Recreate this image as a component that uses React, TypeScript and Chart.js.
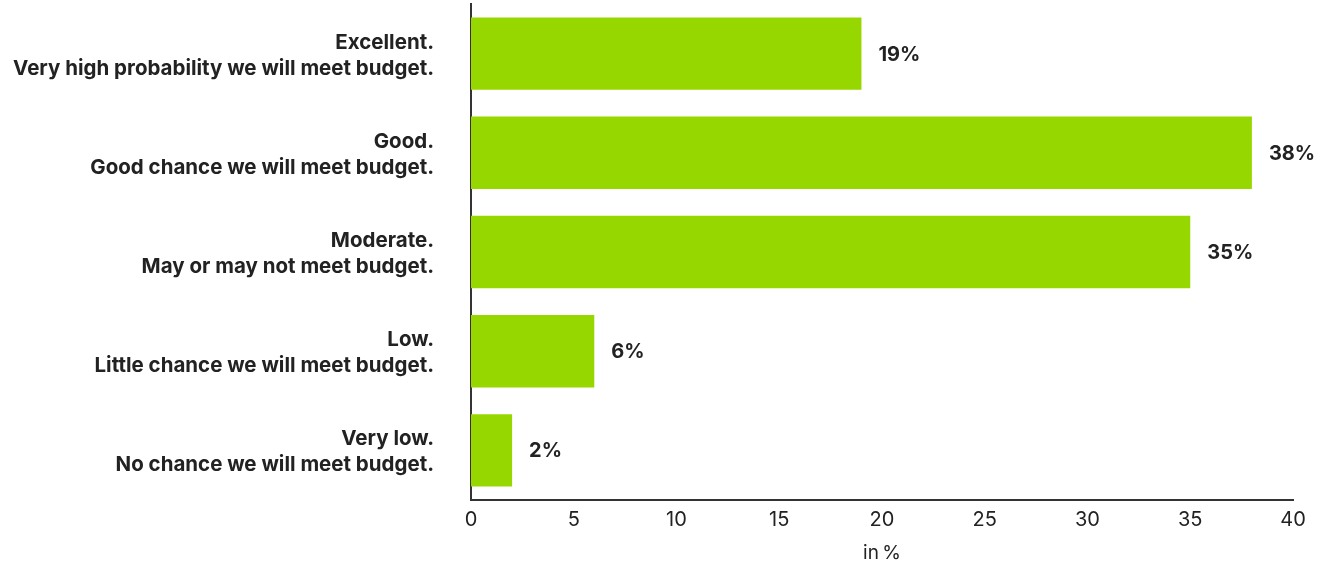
import React, { useEffect, useRef } from "react";
import { Chart, registerables } from "chart.js";

Chart.register(...registerables);

const categories: string[][] = [
  ["Excellent.", "Very high probability we will meet budget."],
  ["Good.", "Good chance we will meet budget."],
  ["Moderate.", "May or may not meet budget."],
  ["Low.", "Little chance we will meet budget."],
  ["Very low.", "No chance we will meet budget."],
];
const values: number[] = [19, 38, 35, 6, 2];
const xTicks: number[] = [0, 5, 10, 15, 20, 25, 30, 35, 40];
const axisTitle = "in\u2009%";

const FONT = "Inter, 'Noto Sans', sans-serif";
const TEXT = "#222222";
const BAR = "#97d700";

const valueLabels = {
  id: "valueLabels",
  afterDatasetsDraw(chart: any) {
    const ctx = chart.ctx;
    const meta = chart.getDatasetMeta(0);
    ctx.save();
    ctx.font = `700 20px ${FONT}`;
    ctx.fillStyle = TEXT;
    ctx.textAlign = "left";
    ctx.textBaseline = "middle";
    meta.data.forEach((el: any, i: number) => {
      ctx.fillText(`${values[i]}%`, el.x + 17, el.y + 1);
    });
    ctx.restore();
  },
};

const categoryLabels = {
  id: "categoryLabels",
  afterDraw(chart: any) {
    const ctx = chart.ctx;
    const y = chart.scales.y;
    const right = chart.chartArea.left - 37;
    ctx.save();
    ctx.font = `700 20.5px ${FONT}`;
    ctx.fillStyle = TEXT;
    ctx.textAlign = "right";
    ctx.textBaseline = "alphabetic";
    categories.forEach((lines, i) => {
      const cy = y.getPixelForValue(i);
      ctx.fillText(lines[0], right, cy - 5);
      ctx.fillText(lines[1], right, cy + 21);
    });
    ctx.restore();
  },
};

export default function App() {
  const ref = useRef<HTMLCanvasElement>(null);
  useEffect(() => {
    if (!ref.current) return;
    const chart = new Chart(ref.current, {
      type: "bar",
      data: {
        labels: categories.map((c) => c.join(" ")),
        datasets: [
          {
            data: values,
            backgroundColor: BAR,
            barPercentage: 0.73,
            categoryPercentage: 1,
          },
        ],
      },
      plugins: [valueLabels, categoryLabels],
      options: {
        indexAxis: "y",
        animation: false,
        responsive: false,
        maintainAspectRatio: false,
        layout: { padding: { top: 4, right: 37, left: 0, bottom: 0 } },
        plugins: {
          legend: { display: false },
          tooltip: { enabled: false },
        },
        scales: {
          x: {
            min: 0,
            max: 40,
            afterBuildTicks: (scale: any) => {
              scale.ticks = xTicks.map((v) => ({ value: v }));
            },
            afterFit: (scale: any) => {
              scale.height = 65;
              scale.paddingLeft = 0;
              scale.paddingRight = 0;
            },
            grid: { display: false },
            border: { display: true, color: "#333333", width: 2 },
            ticks: {
              padding: 0,
              color: TEXT,
              font: { family: FONT, size: 20, weight: "400" },
            },
            title: {
              display: true,
              text: axisTitle,
              color: TEXT,
              padding: { top: 7, bottom: 0 },
              font: { family: FONT, size: 19, weight: "400" },
            },
          },
          y: {
            afterFit: (scale: any) => {
              scale.width = 471;
              scale.paddingTop = 0;
              scale.paddingBottom = 0;
            },
            grid: { display: false },
            border: { display: true, color: "#333333", width: 2 },
            ticks: { display: false },
          },
        },
      },
    });
    return () => chart.destroy();
  }, []);
  return (
    <div style={{ position: "fixed", left: 0, top: 0, width: 1330, height: 565, background: "#fff" }}>
      <canvas ref={ref} width={1330} height={565} style={{ width: 1330, height: 565 }} />
    </div>
  );
}
